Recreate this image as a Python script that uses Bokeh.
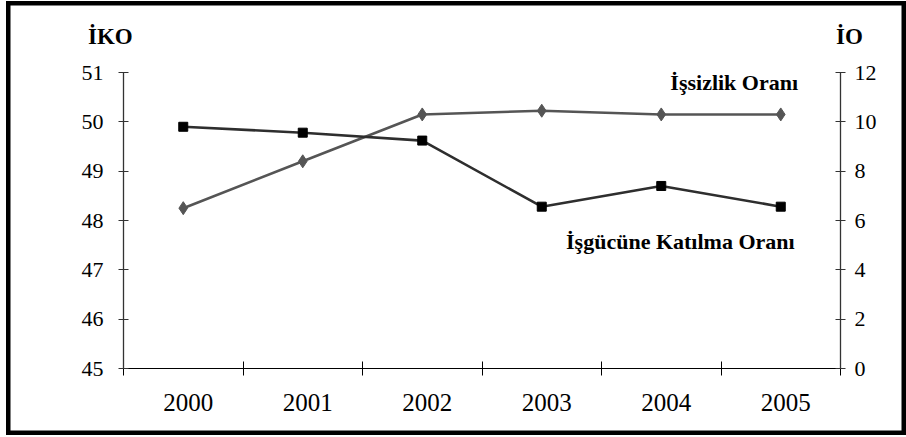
from bokeh.plotting import figure
from bokeh.models import Range1d, LinearAxis, FixedTicker, Label
from bokeh.embed import file_html
from bokeh.resources import INLINE

years = ["2000", "2001", "2002", "2003", "2004", "2005"]
iko = [49.9, 49.78, 49.62, 48.28, 48.7, 48.28]   # İşgücüne Katılma Oranı (left axis)
io = [6.5, 8.4, 10.3, 10.45, 10.3, 10.3]         # İşsizlik Oranı (right axis)
left_ticks = [45, 46, 47, 48, 49, 50, 51]
right_ticks = [0, 2, 4, 6, 8, 10, 12]

FONT = "'Liberation Serif', 'Times New Roman', serif"

n = len(years)
xs = [i + 0.5 for i in range(n)]

# layout in page pixels: canvas at (6,1) of size 900x434; axes box x=123..840, y=72..368
ORG_X, ORG_Y = 6, 1
W, H = 900, 434
AX_L, AX_R, AX_T, AX_B = 123, 840, 72, 368
pxx = (AX_R - AX_L) / n
pxy = (AX_B - AX_T) / (left_ticks[-1] - left_ticks[0])
pxy2 = (AX_B - AX_T) / (right_ticks[-1] - right_ticks[0])

x_rng = Range1d(-(AX_L - ORG_X) / pxx, n + (ORG_X + W - AX_R) / pxx)
y_rng = Range1d(left_ticks[0] - (ORG_Y + H - AX_B) / pxy, left_ticks[-1] + (AX_T - ORG_Y) / pxy)
y2_rng = Range1d(right_ticks[0] - (ORG_Y + H - AX_B) / pxy2, right_ticks[-1] + (AX_T - ORG_Y) / pxy2)

p = figure(width=W, height=H, output_backend="svg", toolbar_location=None,
           x_range=x_rng, y_range=y_rng,
           min_border_left=0, min_border_right=0, min_border_top=0, min_border_bottom=0,
           x_axis_type=None, y_axis_type=None)
p.styles = {"margin-left": f"{ORG_X}px", "margin-top": f"{ORG_Y}px"}
# outer black frame: the plot outline sits on the canvas edge, half of it visible
p.outline_line_color = "black"
p.outline_line_width = 8
p.xgrid.visible = False
p.ygrid.visible = False
p.background_fill_color = "white"
p.border_fill_color = "white"
p.extra_y_ranges = {"io": y2_rng}

# x axis: labels near category centres, tick marks at category boundaries
label_shift = 5 / pxx   # the original's year labels sit a few pixels right of centre
lab_pos = [x + label_shift for x in xs]
xaxis = LinearAxis(ticker=FixedTicker(ticks=lab_pos, minor_ticks=list(range(n + 1))),
                   bounds=(0, n))
xaxis.fixed_location = left_ticks[0]
xaxis.major_label_overrides = {x: y for x, y in zip(lab_pos, years)}
xaxis.major_tick_in = 0
xaxis.major_tick_out = 0
xaxis.minor_tick_in = 7
xaxis.minor_tick_out = 7
xaxis.minor_tick_line_color = "black"
xaxis.axis_line_color = "black"
xaxis.axis_line_width = 1.2
xaxis.major_label_text_font = FONT
xaxis.major_label_text_font_size = "25px"
xaxis.major_label_text_color = "black"
xaxis.major_label_standoff = 18
p.add_layout(xaxis, "below")

yl = LinearAxis(ticker=FixedTicker(ticks=left_ticks), bounds=(left_ticks[0], left_ticks[-1]))
yr = LinearAxis(ticker=FixedTicker(ticks=right_ticks), y_range_name="io",
                bounds=(right_ticks[0], right_ticks[-1]))
yl.fixed_location = 0
yr.fixed_location = n
for ax in (yl, yr):
    ax.major_tick_in = 5
    ax.major_tick_out = 5
    ax.minor_tick_line_color = None
    ax.axis_line_color = "#333333"
    ax.axis_line_width = 1.3
    ax.major_tick_line_color = "#333333"
    ax.major_label_text_font = FONT
    ax.major_label_text_font_size = "22px"
    ax.major_label_text_color = "black"
yl.major_label_standoff = 15
yr.major_label_standoff = 9
p.add_layout(yl, "left")
p.add_layout(yr, "right")

# İşsizlik Oranı (right axis)
p.line(xs, io, y_range_name="io", line_color="#555555", line_width=2.6)
p.scatter(xs, io, y_range_name="io", marker="diamond", size=13,
          fill_color="#555555", line_color="#555555")

# İşgücüne Katılma Oranı (left axis)
p.line(xs, iko, line_color="#2e2e2e", line_width=2.6)
p.scatter(xs, iko, marker="square", size=9, fill_color="black", line_color="black")

def lab(x, y, t, size, align="center", base="middle"):
    p.add_layout(Label(x=x, y=y, text=t, text_font=FONT, text_font_size=size,
                       text_font_style="bold", text_color="black", text_align=align,
                       text_baseline=base))

lab(-0.11, 51.72, "İKO", "23px")
lab(n + 0.075, 51.72, "İO", "23px")
lab(5.645, 50.79, "İşsizlik Oranı", "22px", align="right", base="alphabetic")
lab(5.616, 47.57, "İşgücüne Katılma Oranı", "22px", align="right", base="alphabetic")

open("out.html", "w").write(file_html(p, INLINE))
